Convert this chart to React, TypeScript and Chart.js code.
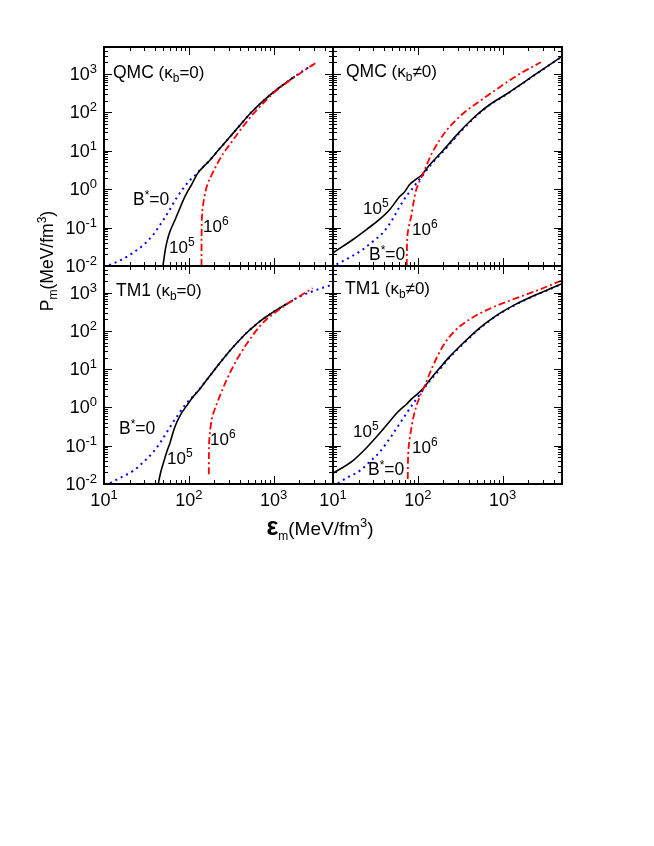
import React, { useEffect, useRef } from "react";
import { Chart, registerables } from "chart.js";
Chart.register(...registerables);

const FONT = '"Liberation Sans", Arial, Helvetica, sans-serif';

// ---- axes ----
const xMin = 10;
const xMax = 5000;
const yMin = 0.01;
const yMax = 5000;
const xTickValues = [10, 100, 1000];
const xTickExps = ["1", "2", "3"];
const yTickValues = [0.01, 0.1, 1, 10, 100, 1000];
const yTickExps = ["-2", "-1", "0", "1", "2", "3"];

// ---- QMC, kappa_b = 0 ----
const qmc0B0x = [11.5, 16, 22, 29, 38, 43.6, 52, 60, 72, 86, 100, 123, 140, 169, 221, 300, 400, 546, 800, 1200, 1690, 2210, 3160];
const qmc0B0y = [0.0105, 0.0145, 0.022, 0.035, 0.065, 0.1, 0.18, 0.3, 0.6, 1.05, 1.6, 2.5, 3.4, 5.1, 10.1, 22, 46, 100, 223, 462, 800, 1196, 1940];
const qmc0B5x = [49.5, 51, 53, 55.5, 60, 68, 76, 86, 96, 107, 116, 126, 134, 150, 169, 221, 300, 400, 546, 800, 1200, 1770];
const qmc0B5y = [0.01, 0.016, 0.028, 0.045, 0.08, 0.15, 0.27, 0.52, 0.85, 1.27, 1.8, 2.5, 3.0, 3.9, 5.1, 10.1, 22, 46, 100, 223, 462, 860];
const qmc0B6x = [141, 141.2, 141.6, 143, 148, 154, 165, 185, 215, 254, 300, 363, 450, 571, 750, 1000, 1500, 2200, 3160];
const qmc0B6y = [0.01, 0.04, 0.1, 0.2, 0.42, 0.7, 1.3, 2.3, 4.5, 8.4, 14, 25, 47, 90, 170, 320, 640, 1150, 1940];

// ---- QMC, kappa_b != 0 ----
const qmc1B0x = [11, 16, 22.5, 30, 38.7, 50, 61, 75, 87, 100, 115, 138, 197, 310, 420, 532, 700, 1100, 2450, 5000];
const qmc1B0y = [0.011, 0.017, 0.027, 0.045, 0.073, 0.16, 0.35, 0.7, 1.05, 1.6, 2.3, 4.0, 9.3, 29, 58, 95, 154, 290, 970, 2830];
const qmc1B5x = [10, 17.2, 25, 35, 47, 61, 70, 79.5, 95, 110, 138, 197, 310, 420, 532, 700, 1100, 2450, 5000];
const qmc1B5y = [0.022, 0.049, 0.09, 0.16, 0.3, 0.64, 0.86, 1.3, 1.8, 2.3, 4.3, 10, 31, 61, 98, 157, 295, 980, 2850];
const qmc1B6x = [74, 74.3, 75, 78, 83.6, 89, 95.5, 104, 115, 130, 150, 216, 355, 500, 697, 1590, 2820];
const qmc1B6y = [0.01, 0.025, 0.05, 0.1, 0.2, 0.45, 0.95, 1.55, 2.5, 4.8, 9.5, 33, 100, 175, 294, 1000, 2000];

// ---- TM1, kappa_b = 0 ----
const tm0B0x = [11.8, 16, 22, 29, 38, 48, 60, 75, 93, 120, 150, 200, 260, 333, 480, 600, 700, 850, 1070, 1690, 1850, 3000, 5000];
const tm0B0y = [0.0105, 0.015, 0.022, 0.037, 0.068, 0.14, 0.31, 0.65, 1.26, 2.3, 4.2, 9.6, 20, 38, 90, 140, 185, 250, 350, 640, 720, 1130, 1650];
const tm0B5x = [43.6, 46, 50, 55, 60, 68, 80, 94, 110, 123, 134, 150, 200, 260, 333, 480, 600, 700, 850, 1070, 1690];
const tm0B5y = [0.01, 0.018, 0.035, 0.07, 0.12, 0.3, 0.65, 1.1, 1.8, 2.4, 3.0, 4.2, 9.6, 20, 38, 90, 140, 185, 250, 350, 640];
const tm0B6x = [172, 172.2, 172.8, 175, 179, 185, 200, 221, 250, 277, 320, 363, 450, 522, 600, 700, 850, 1000, 1550, 2870];
const tm0B6y = [0.018, 0.04, 0.09, 0.16, 0.27, 0.46, 0.85, 1.53, 3.0, 5.1, 10, 17, 37, 60, 92, 140, 215, 285, 560, 1320];

// ---- TM1, kappa_b != 0 ----
const tm1B0x = [11.4, 15, 20.6, 27, 35.4, 48, 61, 75, 88, 100, 110, 130, 180, 240, 324, 532, 700, 912, 1400, 2250, 3500, 5000];
const tm1B0y = [0.0104, 0.015, 0.022, 0.038, 0.068, 0.17, 0.376, 0.75, 1.26, 1.85, 2.5, 4.2, 9.8, 21, 41, 115, 185, 278, 480, 795, 1210, 1700];
const tm1B5x = [10, 17.2, 25, 35, 46, 58, 64, 73, 85, 100, 120, 145, 180, 240, 324, 532, 700, 912, 1400, 2250, 3500, 5000];
const tm1B5y = [0.019, 0.041, 0.09, 0.205, 0.42, 0.76, 0.93, 1.2, 1.7, 2.3, 3.5, 6.0, 10.6, 22, 43, 119, 190, 285, 490, 810, 1230, 1720];
const tm1B6x = [76, 76.3, 77, 79, 83, 87, 95, 105, 120, 137, 150, 197, 269, 405, 697, 1440, 2690, 5000];
const tm1B6y = [0.0135, 0.03, 0.06, 0.12, 0.25, 0.46, 1.0, 1.88, 3.6, 7.5, 12, 40, 98, 200, 380, 720, 1200, 2100];

type Part = { t: string; s: number; dy?: number; w?: string };

function partsWidth(ctx: CanvasRenderingContext2D, parts: Part[]) {
  let w = 0;
  for (const p of parts) {
    ctx.font = `${p.w || ""} ${p.s}px ${FONT}`;
    w += ctx.measureText(p.t).width;
  }
  return w;
}

function drawRich(ctx: CanvasRenderingContext2D, parts: Part[], x: number, y: number, align: "left" | "center" | "right" = "left") {
  const w = partsWidth(ctx, parts);
  let cx = align === "left" ? x : align === "center" ? x - w / 2 : x - w;
  ctx.textAlign = "left";
  ctx.textBaseline = "alphabetic";
  ctx.fillStyle = "#000";
  for (const p of parts) {
    ctx.font = `${p.w || ""} ${p.s}px ${FONT}`;
    ctx.fillText(p.t, cx, y + (p.dy || 0));
    cx += ctx.measureText(p.t).width;
  }
}

const pow10 = (e: string): Part[] => [
  { t: "10", s: 17 },
  { t: e, s: 12, dy: -7 },
];
const tickPow10 = (e: string): Part[] => [
  { t: "10", s: 18 },
  { t: e, s: 13, dy: -7 },
];

type Label = { parts: Part[]; x: number; y: number };
type PanelCfg = {
  box: [number, number, number, number];
  b0: [number[], number[]];
  b5: [number[], number[]];
  b6: [number[], number[]];
  labels: Label[];
  yLabels: boolean;
  xLabels: boolean;
  yTitle?: boolean;
  xTitle?: boolean;
};

const title = (name: string, rel: string): Part[] => [
  { t: name, s: 17.5 },
  { t: " (κ", s: 17 },
  { t: "b", s: 12, dy: 4 },
  { t: rel + "0)", s: 17 },
];
const bstar: Part[] = [
  { t: "B", s: 17.5 },
  { t: "*", s: 12, dy: -6 },
  { t: "=0", s: 17.5 },
];

const panels: PanelCfg[] = [
  {
    box: [104, 47, 333, 266],
    b0: [qmc0B0x, qmc0B0y],
    b5: [qmc0B5x, qmc0B5y],
    b6: [qmc0B6x, qmc0B6y],
    labels: [
      { parts: title("QMC", "="), x: 113, y: 78 },
      { parts: bstar, x: 133, y: 205 },
      { parts: pow10("5"), x: 169, y: 253 },
      { parts: pow10("6"), x: 203, y: 232 },
    ],
    yLabels: true,
    xLabels: false,
    yTitle: true,
  },
  {
    box: [333, 47, 562, 266],
    b0: [qmc1B0x, qmc1B0y],
    b5: [qmc1B5x, qmc1B5y],
    b6: [qmc1B6x, qmc1B6y],
    labels: [
      { parts: title("QMC", "≠"), x: 346, y: 77 },
      { parts: pow10("5"), x: 363, y: 214 },
      { parts: pow10("6"), x: 412, y: 235 },
      { parts: bstar, x: 369, y: 260 },
    ],
    yLabels: false,
    xLabels: false,
  },
  {
    box: [104, 266, 333, 484],
    b0: [tm0B0x, tm0B0y],
    b5: [tm0B5x, tm0B5y],
    b6: [tm0B6x, tm0B6y],
    labels: [
      { parts: title("TM1", "="), x: 116, y: 296 },
      { parts: bstar, x: 119, y: 434 },
      { parts: pow10("5"), x: 167, y: 464 },
      { parts: pow10("6"), x: 210, y: 445 },
    ],
    yLabels: true,
    xLabels: true,
    xTitle: true,
  },
  {
    box: [333, 266, 562, 484],
    b0: [tm1B0x, tm1B0y],
    b5: [tm1B5x, tm1B5y],
    b6: [tm1B6x, tm1B6y],
    labels: [
      { parts: title("TM1", "≠"), x: 345, y: 294 },
      { parts: pow10("5"), x: 353, y: 437 },
      { parts: pow10("6"), x: 412, y: 453 },
      { parts: bstar, x: 368, y: 475 },
    ],
    yLabels: false,
    xLabels: true,
  },
];

const W = 654;
const H = 846;

function toPts(xs: number[], ys: number[]) {
  return xs.map((x, i) => ({ x, y: ys[i] }));
}

function makePlugin(cfg: PanelCfg) {
  return {
    id: "panelDecor",
    afterDraw(chart: any) {
      const ctx: CanvasRenderingContext2D = chart.ctx;
      const xs = chart.scales.x;
      const ys = chart.scales.y;
      const { left, right, top, bottom } = chart.chartArea;
      ctx.save();
      ctx.strokeStyle = "#000";
      ctx.setLineDash([]);
      ctx.lineWidth = 1;
      ctx.beginPath();
      for (let d = 1; d <= 3; d++) {
        for (let m = 1; m <= 9; m++) {
          const v = m * Math.pow(10, d);
          if (v < xMin || v > xMax) continue;
          const px = Math.round(xs.getPixelForValue(v)) + 0.5;
          const len = m === 1 ? 8 : 4;
          ctx.moveTo(px, bottom);
          ctx.lineTo(px, bottom - len);
          ctx.moveTo(px, top);
          ctx.lineTo(px, top + len);
        }
      }
      for (let d = -2; d <= 3; d++) {
        for (let m = 1; m <= 9; m++) {
          const v = m * Math.pow(10, d);
          if (v < yMin * 0.999 || v > yMax) continue;
          const py = Math.round(ys.getPixelForValue(v)) + 0.5;
          const len = m === 1 ? 8 : 4;
          ctx.moveTo(left, py);
          ctx.lineTo(left + len, py);
          ctx.moveTo(right, py);
          ctx.lineTo(right - len, py);
        }
      }
      ctx.stroke();
      ctx.lineWidth = 2;
      ctx.strokeRect(left, top, right - left, bottom - top);

      if (cfg.yLabels) {
        yTickValues.forEach((v, i) => {
          const py = ys.getPixelForValue(v);
          drawRich(ctx, tickPow10(yTickExps[i]), 97, py + 6, "right");
        });
      }
      if (cfg.xLabels) {
        xTickValues.forEach((v, i) => {
          const px = xs.getPixelForValue(v);
          drawRich(ctx, tickPow10(xTickExps[i]), px, 506, "center");
        });
      }
      for (const l of cfg.labels) drawRich(ctx, l.parts, l.x, l.y, "left");

      if (cfg.yTitle) {
        ctx.save();
        ctx.translate(53, 261);
        ctx.rotate(-Math.PI / 2);
        drawRich(
          ctx,
          [
            { t: "P", s: 17.5 },
            { t: "m", s: 12, dy: 4 },
            { t: "(MeV/fm", s: 17.5 },
            { t: "3", s: 12, dy: -7 },
            { t: ")", s: 17.5 },
          ],
          0,
          0,
          "center"
        );
        ctx.restore();
      }
      if (cfg.xTitle) {
        drawRich(
          ctx,
          [
            { t: "ε", s: 25, w: "bold" },
            { t: "m", s: 12, dy: 5 },
            { t: "(MeV/fm", s: 19 },
            { t: "3", s: 13, dy: -8 },
            { t: ")", s: 19 },
          ],
          320,
          535,
          "center"
        );
      }
      ctx.restore();
    },
  };
}

function Panel({ cfg }: { cfg: PanelCfg }) {
  const ref = useRef<HTMLCanvasElement | null>(null);
  useEffect(() => {
    if (!ref.current) return;
    const [l, t, r, b] = cfg.box;
    const common = { showLine: true, pointRadius: 0, fill: false, cubicInterpolationMode: "monotone" as const, clip: 0 };
    const chart = new Chart(ref.current, {
      type: "scatter",
      data: {
        datasets: [
          { ...common, label: "1e6", data: toPts(cfg.b6[0], cfg.b6[1]), borderColor: "#ff0000", borderWidth: 1.8, borderDash: [7, 3, 2, 3] },
          { ...common, label: "1e5", data: toPts(cfg.b5[0], cfg.b5[1]), borderColor: "#000000", borderWidth: 1.6 },
          { ...common, label: "B0", data: toPts(cfg.b0[0], cfg.b0[1]), borderColor: "#0000ff", borderWidth: 2, borderDash: [2, 4] },
        ],
      },
      options: {
        animation: false,
        responsive: false,
        events: [],
        layout: { padding: { left: l, top: t, right: W - r, bottom: H - b } },
        plugins: { legend: { display: false }, tooltip: { enabled: false } },
        scales: {
          x: { type: "logarithmic", min: xMin, max: xMax, display: false },
          y: { type: "logarithmic", min: yMin, max: yMax, display: false },
        },
      },
      plugins: [makePlugin(cfg)],
    } as any);
    return () => chart.destroy();
  }, [cfg]);
  return <canvas ref={ref} width={W} height={H} style={{ position: "absolute", left: 0, top: 0, width: W, height: H }} />;
}

export default function App() {
  return (
    <div style={{ position: "absolute", left: 0, top: 0, width: W, height: H, background: "#fff" }}>
      {panels.map((p, i) => (
        <Panel key={i} cfg={p} />
      ))}
    </div>
  );
}
